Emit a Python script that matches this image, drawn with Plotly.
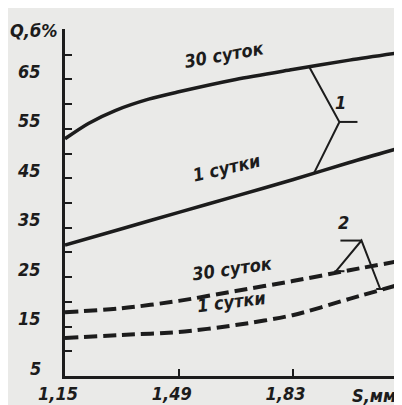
import plotly.graph_objects as go

# ---- data ----
s_upper = [1.15, 1.22, 1.30, 1.40, 1.49, 1.66, 1.83, 2.00, 2.17]
q_30days_solid = [53.0, 56.1, 58.7, 61.0, 62.5, 65.0, 67.0, 68.9, 70.6]

s_lin = [1.15, 1.32, 1.49, 1.66, 1.83, 2.00, 2.17]
q_1day_solid = [31.5, 34.8, 38.1, 41.4, 44.7, 48.2, 51.5]
q_30days_dash = [17.9, 18.7, 20.2, 22.2, 24.2, 26.4, 28.5]
q_1day_dash = [12.7, 13.3, 13.9, 15.3, 17.3, 20.6, 23.9]

# leader lines of group labels "1" and "2"
br1_x = [1.880, 1.970, 1.893]
br1_y = [67.5, 56.4, 45.9]
br1_bar_x = [1.970, 2.024]
br1_bar_y = [56.4, 56.4]
br2_x = [1.960, 2.036, 2.092]
br2_y = [26.2, 32.4, 22.6]
br2_bar_x = [1.973, 2.036]
br2_bar_y = [32.4, 32.4]
br2_foot1_x = [1.955, 1.985]
br2_foot1_y = [26.2, 26.2]
br2_foot2_x = [2.080, 2.112]
br2_foot2_y = [22.6, 22.6]

x_tickvals = [1.15, 1.49, 1.83, 2.17]
x_ticktext = ["1,15", "1,49", "1,83", ""]
y_tickvals = [5, 10, 15, 20, 25, 30, 35, 40, 45, 50, 55, 60, 65, 70, 75]
y_label_vals = [5, 15, 25, 35, 45, 55, 65]
y_label_text = ["5", "15", "25", "35", "45", "55", "65"]

INK = "#1c1c1c"
BG = "#eaeae8"
FONT = "DejaVu Sans Condensed, Liberation Sans Narrow, DejaVu Sans"
DX, DY = -7, 8   # compensation of the rendering offset of italic text

fig = go.Figure()

def line(x, y, width, dash="solid", shape="spline"):
    fig.add_trace(go.Scatter(x=x, y=y, mode="lines", showlegend=False,
                             hoverinfo="skip", cliponaxis=False,
                             line=dict(color=INK, width=width, dash=dash,
                                       shape=shape, smoothing=0.8)))

line(s_upper, q_30days_solid, 3.5)
line(s_lin, q_1day_solid, 3.5)
line(s_lin, q_30days_dash, 4, dash="13px,6px")
line(s_lin, q_1day_dash, 4, dash="13px,6px")
for bx, by in [(br1_x, br1_y), (br1_bar_x, br1_bar_y), (br2_x, br2_y),
               (br2_bar_x, br2_bar_y), (br2_foot1_x, br2_foot1_y),
               (br2_foot2_x, br2_foot2_y)]:
    line(bx, by, 2, shape="linear")

def label(text, x, y, angle=0, size=18, xref="x", yref="y", xanchor="center", xs=0):
    fig.add_annotation(x=x, y=y, text=text, showarrow=False, textangle=angle,
                       xref=xref, yref=yref,
                       xanchor=xanchor, yanchor="middle",
                       xshift=DX + xs, yshift=DY,
                       font=dict(family=FONT, size=size, color=INK,
                                 style="italic", weight="bold"))

label("30 суток", 1.648, 68.4, -10)
label("1 сутки", 1.655, 45.6, -13)
label("30 суток", 1.672, 25.2, -8)
label("1 сутки", 1.669, 18.4, -7)
label("1", 1.994, 58.7)
label("2", 2.003, 34.5)
label("S,мм", 0.924, -0.078, xref="paper", yref="paper")
label("Q,б%", -0.073, 0.974, xref="paper", yref="paper")
for v, t in zip(y_label_vals, y_label_text):
    label(t, 0, v, xref="paper", yref="y", xanchor="right", xs=-15)

tickfont = dict(family=FONT, size=18, color=INK, style="italic", weight="bold")

fig.update_layout(
    width=402, height=405,
    margin=dict(l=57, r=3, t=21, b=37),
    paper_bgcolor=BG, plot_bgcolor=BG,
    xaxis=dict(range=[1.15, 2.172], showgrid=False, zeroline=False,
               showline=True, linecolor=INK, linewidth=2.5,
               tickmode="array", tickvals=x_tickvals, ticktext=x_ticktext,
               ticks="inside", ticklen=7, tickwidth=2, tickcolor=INK,
               tickfont=tickfont, ticklabelstandoff=0, ticklabelshift=-7),
    yaxis=dict(range=[5, 75.2], showgrid=False, zeroline=False,
               showline=True, linecolor=INK, linewidth=2.5,
               tickmode="array", tickvals=y_tickvals, showticklabels=False,
               ticks="inside", ticklen=7, tickwidth=2, tickcolor=INK),
)

fig.write_html("out.html")
